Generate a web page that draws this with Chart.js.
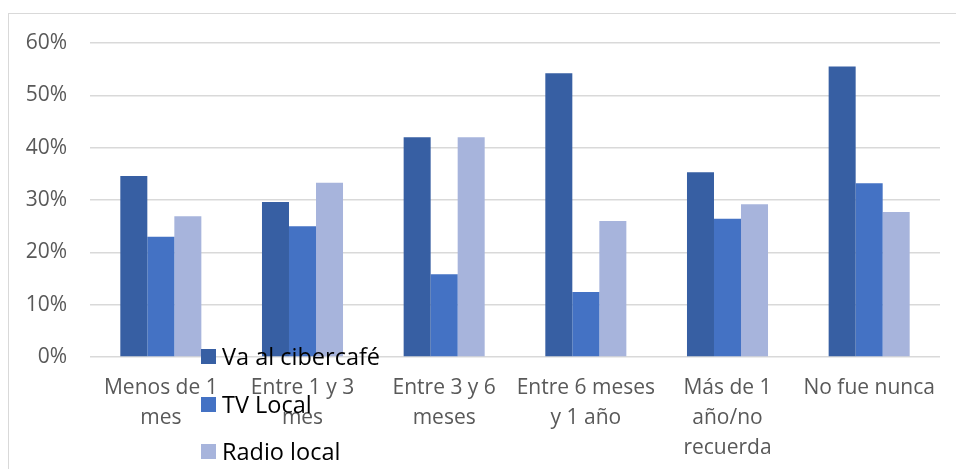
<!DOCTYPE html>
<html lang="es">
<head>
    <meta charset="utf-8" />
    <title>Frecuencia</title>
    <script src="https://cdn.jsdelivr.net/npm/chart.js@4.4.0/dist/chart.umd.min.js"></script>
    <style>
        body { margin: 0; background: #fff; }
        #wrap { position: relative; width: 956px; height: 469px; overflow: hidden; }
        #frame { position: absolute; left: 8px; top: 13px; width: 1000px; height: 500px; border: 1.5px solid #d9d9d9; }
        #barras { position: absolute; left: 0; top: 0; }
        #leyenda { position: absolute; left: 201px; top: 333px; font-family: "Open Sans", sans-serif; font-size: 23.5px; color: #000; }
        #leyenda div { height: 47.5px; line-height: 47.5px; display: flex; align-items: center; }
        #leyenda span.box { width: 15px; height: 15px; margin-right: 6px; display: inline-block; }
    </style>
</head>
<body>
    <div id="wrap">
        <div id="frame"></div>
        <canvas id="barras" width="956" height="469"></canvas>
        <div id="leyenda"></div>
    </div>

    <script>
        // datos
        var categorias = [["Menos de 1", "mes"], ["Entre 1 y 3", "mes"], ["Entre 3 y 6", "meses"],
            ["Entre 6 meses", "y 1 año"], ["Más de 1", "año/no", "recuerda"], ["No fue nunca"]];
        var series = ["Va al cibercafé", "TV Local", "Radio local"];
        var cibercafe = [0.346, 0.296, 0.420, 0.542, 0.353, 0.555];
        var tvLocal = [0.230, 0.250, 0.158, 0.124, 0.264, 0.332];
        var radioLocal = [0.269, 0.333, 0.420, 0.260, 0.292, 0.277];
        var colores = ["#375FA3", "#4472C4", "#A7B4DC"];

        var valores = [cibercafe, tvLocal, radioLocal];
        var ctx = document.getElementById('barras').getContext('2d');

        var grafico = new Chart(ctx, {
            type: 'bar',
            data: {
                labels: categorias,
                datasets: series.map(function (s, i) {
                    return {
                        label: s,
                        data: valores[i],
                        backgroundColor: colores[i],
                        borderWidth: 0,
                        categoryPercentage: 0.572,
                        barPercentage: 1
                    };
                })
            },
            options: {
                responsive: false,
                animation: false,
                layout: { padding: { left: 10, right: 16, top: 43, bottom: 0 } },
                plugins: {
                    legend: { display: false },
                    tooltip: { enabled: false }
                },
                scales: {
                    x: {
                        grid: { display: false, drawTicks: false },
                        border: { display: false },
                        ticks: {
                            color: '#595959',
                            padding: 16,
                            maxRotation: 0,
                            autoSkip: false,
                            font: { family: 'Open Sans', size: 21, lineHeight: 1.43 }
                        },
                        afterFit: function (s) { s.height = 112; }
                    },
                    y: {
                        min: 0,
                        max: 0.6,
                        grid: { color: '#d9d9d9', lineWidth: 1.5, drawTicks: false },
                        border: { display: false },
                        ticks: {
                            stepSize: 0.1,
                            color: '#595959',
                            padding: 23,
                            font: { family: 'Open Sans', size: 21 },
                            callback: function (v) { return Math.round(v * 100) + '%'; }
                        },
                        afterFit: function (s) { s.width = 80; }
                    }
                }
            }
        });

        // leyenda en HTML
        var ley = document.getElementById('leyenda');
        grafico.data.datasets.forEach(function (d) {
            var fila = document.createElement('div');
            var caja = document.createElement('span');
            caja.className = 'box';
            caja.style.background = d.backgroundColor;
            fila.appendChild(caja);
            fila.appendChild(document.createTextNode(d.label));
            ley.appendChild(fila);
        });
    </script>
</body>
</html>
